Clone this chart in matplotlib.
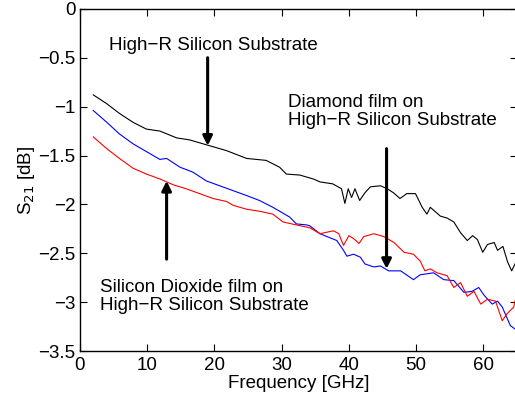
import numpy as np
import matplotlib
matplotlib.use("Agg")
import matplotlib.pyplot as plt

plt.rcParams["font.family"] = ["Liberation Sans", "DejaVu Sans"]
plt.rcParams["font.size"] = 13.5

# High-R Silicon Substrate (black)
f_si = [2.0, 4.0, 5.9, 7.9, 9.9, 11.9, 14.4, 16.3, 18.8, 21.8, 24.8, 27.7, 29.7, 30.7,
        32.7, 34.7, 35.7, 37.6, 38.9, 39.4, 39.9, 40.4, 40.9, 41.6, 42.4, 43.2, 44.7,
        45.7, 46.6, 47.6, 48.6, 49.9, 50.9, 51.6, 52.1, 53.6, 54.6, 55.6, 56.6, 57.6,
        58.4, 59.1, 59.9, 60.6, 61.6, 62.1, 62.9, 63.6, 64.2, 64.9]
s_si = [-0.88, -0.97, -1.07, -1.16, -1.23, -1.25, -1.32, -1.34, -1.39, -1.45, -1.53,
        -1.55, -1.62, -1.69, -1.70, -1.74, -1.77, -1.79, -1.84, -1.99, -1.84, -1.93,
        -1.84, -1.96, -1.88, -1.82, -1.81, -1.84, -1.88, -1.94, -1.89, -1.89, -2.03,
        -2.10, -2.03, -2.12, -2.14, -2.18, -2.29, -2.37, -2.32, -2.36, -2.49, -2.41,
        -2.39, -2.47, -2.43, -2.59, -2.68, -2.58]

# Diamond film on High-R Silicon Substrate (blue)
f_dia = [2.0, 4.0, 5.9, 7.9, 9.9, 11.9, 12.9, 14.9, 16.8, 18.8, 20.8, 22.8, 24.8, 26.7,
         28.7, 30.7, 31.2, 32.2, 33.7, 34.2, 35.7, 38.2, 39.2, 39.7, 40.7, 41.7, 42.4,
         43.7, 44.7, 45.9, 47.7, 49.6, 50.6, 52.6, 54.1, 55.6, 57.1, 58.3, 59.3, 60.1,
         61.3, 62.1, 62.8, 64.0, 64.8]
s_dia = [-1.04, -1.16, -1.28, -1.38, -1.46, -1.54, -1.53, -1.62, -1.67, -1.76, -1.81,
         -1.86, -1.91, -1.96, -2.03, -2.11, -2.13, -2.20, -2.21, -2.22, -2.30, -2.37,
         -2.47, -2.53, -2.51, -2.54, -2.61, -2.64, -2.63, -2.68, -2.68, -2.77, -2.72,
         -2.70, -2.77, -2.78, -2.90, -2.89, -2.85, -2.93, -3.02, -2.99, -3.05, -3.24,
         -3.28]

# Silicon Dioxide film on High-R Silicon Substrate (red)
f_ox = [2.0, 4.0, 5.9, 7.9, 9.9, 11.9, 13.9, 15.8, 17.8, 19.8, 21.8, 22.8, 24.8, 26.7,
        28.7, 30.2, 32.2, 34.2, 35.7, 37.7, 38.5, 39.2, 40.0, 40.7, 41.5, 42.2, 43.7,
        45.2, 46.7, 48.2, 49.6, 50.6, 51.3, 52.1, 53.1, 54.6, 55.6, 56.6, 57.6, 58.6,
        59.6, 60.6, 61.8, 62.8, 63.5, 64.5, 64.8]
s_ox = [-1.31, -1.43, -1.53, -1.63, -1.69, -1.74, -1.80, -1.84, -1.89, -1.94, -1.97,
        -2.01, -2.05, -2.07, -2.10, -2.18, -2.21, -2.24, -2.30, -2.27, -2.30, -2.42,
        -2.32, -2.35, -2.40, -2.33, -2.30, -2.33, -2.39, -2.49, -2.51, -2.58, -2.68,
        -2.66, -2.70, -2.73, -2.85, -2.80, -2.94, -2.89, -3.02, -2.97, -2.99, -3.19,
        -3.12, -3.05, -2.96]

fig = plt.figure(figsize=(5.15, 4.03), dpi=100)
ax = fig.add_axes([0.155, 0.129, 0.849, 0.849])

ax.plot(f_si, s_si, color="k", lw=0.8)
ax.plot(f_dia, s_dia, color="b", lw=0.8)
ax.plot(f_ox, s_ox, color="r", lw=0.8)

ax.set_xlim(0, 65)
ax.set_ylim(-3.5, 0)
ax.set_xticks(np.arange(0, 61, 10))
ax.set_yticks(np.arange(-3.5, 0.01, 0.5))
ax.set_yticklabels(["\u22123.5", "\u22123", "\u22122.5", "\u22122", "\u22121.5",
                    "\u22121", "\u22120.5", "0"])
ax.tick_params(direction="in", top=True, right=True, length=5, width=0.8,
               labelsize=13.5)
ax.tick_params(axis="x", pad=4)
ax.tick_params(axis="y", pad=3)
for sp in ax.spines.values():
    sp.set_linewidth(1.0)

ax.set_xlabel("Frequency [GHz]", labelpad=1)
ax.set_ylabel("S$_{21}$ [dB]", labelpad=1)

arrow = dict(arrowstyle="-|>", lw=2.2, color="k", mutation_scale=14, shrinkA=0, shrinkB=0)

ax.text(4.3, -0.37, "High\u2212R Silicon Substrate", va="center")
ax.annotate("", xy=(19.0, -1.40), xytext=(19.0, -0.5), arrowprops=arrow)

ax.text(31.0, -1.047, "Diamond film on\nHigh\u2212R Silicon Substrate",
        va="center", linespacing=1.05)
ax.annotate("", xy=(45.6, -2.66), xytext=(45.6, -1.43), arrowprops=arrow)

ax.text(3.0, -2.94, "Silicon Dioxide film on\nHigh\u2212R Silicon Substrate",
        va="center", linespacing=1.05)
ax.annotate("", xy=(12.9, -1.76), xytext=(12.9, -2.56), arrowprops=arrow)

fig.savefig("out.png", dpi=100)
